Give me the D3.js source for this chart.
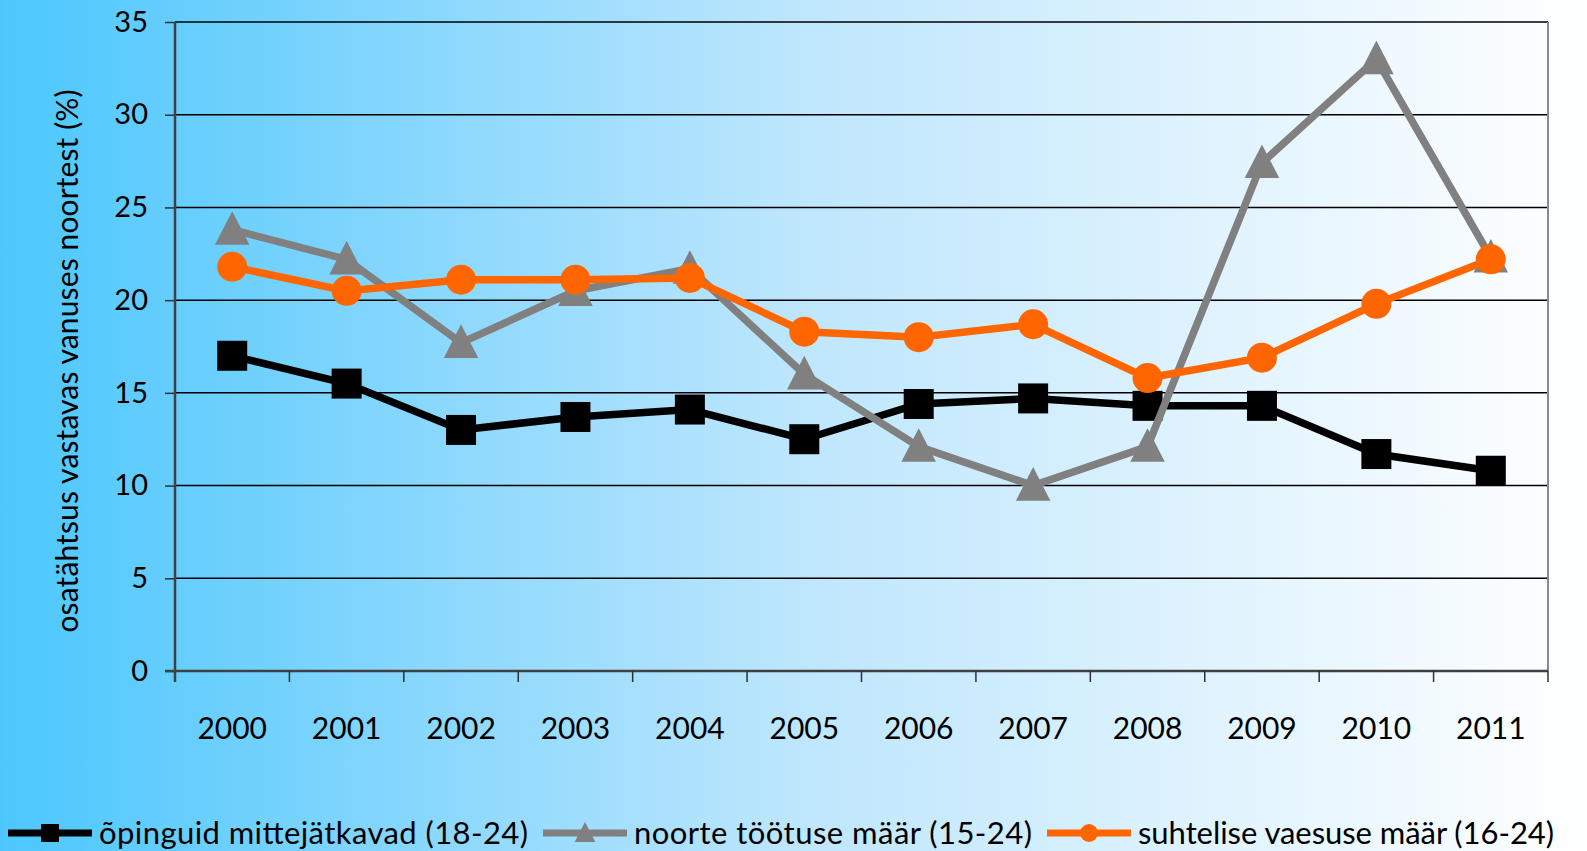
<!DOCTYPE html>
<html>
<head>
<meta charset="utf-8">
<script src="https://cdn.jsdelivr.net/npm/d3@7"></script>
<style>
  body { margin: 0; padding: 0; overflow: hidden; }
  svg { display: block; font-family: Lato, "Open Sans", sans-serif; }
</style>
</head>
<body>
<div id="chart"></div>
<script>
// data
var years = ["2000", "2001", "2002", "2003", "2004", "2005", "2006", "2007", "2008", "2009", "2010", "2011"];
var dropouts = [17.0, 15.5, 13.0, 13.7, 14.1, 12.5, 14.4, 14.7, 14.3, 14.3, 11.7, 10.8];
var unemployment = [23.8, 22.2, 17.7, 20.5, 21.7, 16.0, 12.1, 10.0, 12.1, 27.4, 33.0, 22.3];
var poverty = [21.8, 20.5, 21.1, 21.1, 21.2, 18.3, 18.0, 18.7, 15.8, 16.9, 19.8, 22.2];
var yTicks = [0, 5, 10, 15, 20, 25, 30, 35];
var seriesNames = ["õpinguid mittejätkavad (18-24)", "noorte töötuse määr (15-24)", "suhtelise vaesuse määr (16-24)"];
var yTitle = "osatähtsus vastavas vanuses noortest (%)";

var svgWidth = 1587;
var svgHeight = 851;

var margin = { top: 22, right: 39, bottom: 180, left: 175 };
var plotWidth = svgWidth - margin.left - margin.right;
var plotHeight = svgHeight - margin.top - margin.bottom;

var svg = d3.select("#chart")
    .append("svg")
    .attr("width", svgWidth)
    .attr("height", svgHeight);

// background gradient
var grad = svg.append("defs").append("linearGradient")
    .attr("id", "bg")
    .attr("x1", "0%").attr("x2", "100%")
    .attr("y1", "0%").attr("y2", "0%");
grad.append("stop").attr("offset", "0%").attr("stop-color", "#4cc7fd");
grad.append("stop").attr("offset", "50%").attr("stop-color", "#bde6fd");
grad.append("stop").attr("offset", "100%").attr("stop-color", "#ffffff");

svg.append("rect")
    .attr("width", svgWidth)
    .attr("height", svgHeight)
    .attr("fill", "url(#bg)");

var chartGroup = svg.append("g")
    .attr("transform", `translate(${margin.left}, ${margin.top})`);

var xScale = d3.scaleBand()
    .domain(years)
    .range([0, plotWidth]);

var yScale = d3.scaleLinear()
    .domain([0, 35])
    .range([plotHeight, 0]);

// gridlines
chartGroup.selectAll(".grid")
    .data(yTicks.filter(d => d > 0))
    .enter()
    .append("line")
    .attr("x1", 0)
    .attr("x2", plotWidth)
    .attr("y1", d => yScale(d))
    .attr("y2", d => yScale(d))
    .attr("stroke", "#000")
    .attr("stroke-width", 1.5);

// right border of the plot
chartGroup.append("line")
    .attr("x1", plotWidth).attr("x2", plotWidth)
    .attr("y1", 0).attr("y2", plotHeight)
    .attr("stroke", "#8a8a8a")
    .attr("stroke-width", 2);

// y axis
var yAxis = d3.axisLeft(yScale)
    .tickValues(yTicks)
    .tickSize(10)
    .tickPadding(17);

var yAxisG = chartGroup.append("g").call(yAxis);
yAxisG.select(".domain").remove();
yAxisG.selectAll(".tick line").attr("stroke", "#303030").attr("stroke-width", 1.5);
yAxisG.selectAll(".tick text")
    .attr("font-size", "29px")
    .attr("font-family", "Lato, sans-serif")
    .attr("fill", "#000");

chartGroup.append("line")
    .attr("x1", 0).attr("x2", 0)
    .attr("y1", 0).attr("y2", plotHeight + 11)
    .attr("stroke", "#404040")
    .attr("stroke-width", 2.5);

// x axis
chartGroup.append("line")
    .attr("x1", -10).attr("x2", plotWidth)
    .attr("y1", plotHeight).attr("y2", plotHeight)
    .attr("stroke", "#404040")
    .attr("stroke-width", 2.5);

chartGroup.selectAll(".xtick")
    .data(years)
    .enter()
    .append("line")
    .attr("x1", d => xScale(d) + xScale.bandwidth())
    .attr("x2", d => xScale(d) + xScale.bandwidth())
    .attr("y1", plotHeight)
    .attr("y2", plotHeight + 11)
    .attr("stroke", "#303030")
    .attr("stroke-width", 1.5);

var xAxis = d3.axisBottom(xScale)
    .tickSize(0)
    .tickPadding(47);

var xAxisG = chartGroup.append("g")
    .attr("transform", `translate(0, ${plotHeight})`)
    .call(xAxis);
xAxisG.select(".domain").remove();
xAxisG.selectAll(".tick text")
    .attr("font-size", "30px")
    .attr("font-family", "Lato, sans-serif")
    .attr("fill", "#000");

// y axis title
svg.append("text")
    .attr("transform", "translate(78, 361) rotate(-90)")
    .attr("text-anchor", "middle")
    .attr("font-size", "30px")
    .attr("textLength", 543)
    .attr("lengthAdjust", "spacing")
    .attr("fill", "#000")
    .text(yTitle);

// series
var series = [
    { name: seriesNames[0], values: dropouts, color: "#000000", marker: "square" },
    { name: seriesNames[1], values: unemployment, color: "#808080", marker: "triangle" },
    { name: seriesNames[2], values: poverty, color: "#ff6600", marker: "circle" }
];

var cx = d => xScale(d) + xScale.bandwidth() / 2;

function drawMarker(g, type, color, size) {
    if (type === "square") {
        g.append("rect")
            .attr("x", -size / 2).attr("y", -size / 2)
            .attr("width", size).attr("height", size)
            .attr("fill", color);
    } else if (type === "triangle") {
        var w = size * 1.15, h = size * 1.12;
        g.append("path")
            .attr("d", `M0,${-h * 0.55}L${w / 2},${h * 0.45}L${-w / 2},${h * 0.45}Z`)
            .attr("fill", color);
    } else {
        g.append("circle")
            .attr("r", size / 2)
            .attr("fill", color);
    }
}

var line = d3.line()
    .x((d, i) => cx(years[i]))
    .y(d => yScale(d));

series.forEach(function(s) {
    chartGroup.append("path")
        .datum(s.values)
        .attr("d", line)
        .attr("fill", "none")
        .attr("stroke", s.color)
        .attr("stroke-width", 7.5)
        .attr("stroke-linejoin", "miter");

    chartGroup.selectAll(null)
        .data(s.values)
        .enter()
        .append("g")
        .attr("transform", (d, i) => `translate(${cx(years[i])}, ${yScale(d)})`)
        .each(function() { drawMarker(d3.select(this), s.marker, s.color, 30); });
});

// legend
var legendX = [8, 543, 1047];
var legendTextW = [429, 398, 416];
var legend = svg.append("g").attr("transform", "translate(0, 833)");

series.forEach(function(s, i) {
    var lg = legend.append("g").attr("transform", `translate(${legendX[i]}, 0)`);
    lg.append("line")
        .attr("x1", 0).attr("x2", 84)
        .attr("y1", 0).attr("y2", 0)
        .attr("stroke", s.color)
        .attr("stroke-width", 7);
    var m = lg.append("g").attr("transform", "translate(42, 0)");
    drawMarker(m, s.marker, s.color, 18);
    lg.append("text")
        .attr("x", 91)
        .attr("y", 11)
        .attr("font-size", "31px")
        .attr("textLength", legendTextW[i])
        .attr("lengthAdjust", "spacing")
        .attr("fill", "#000")
        .text(s.name);
});
</script>
</body>
</html>
